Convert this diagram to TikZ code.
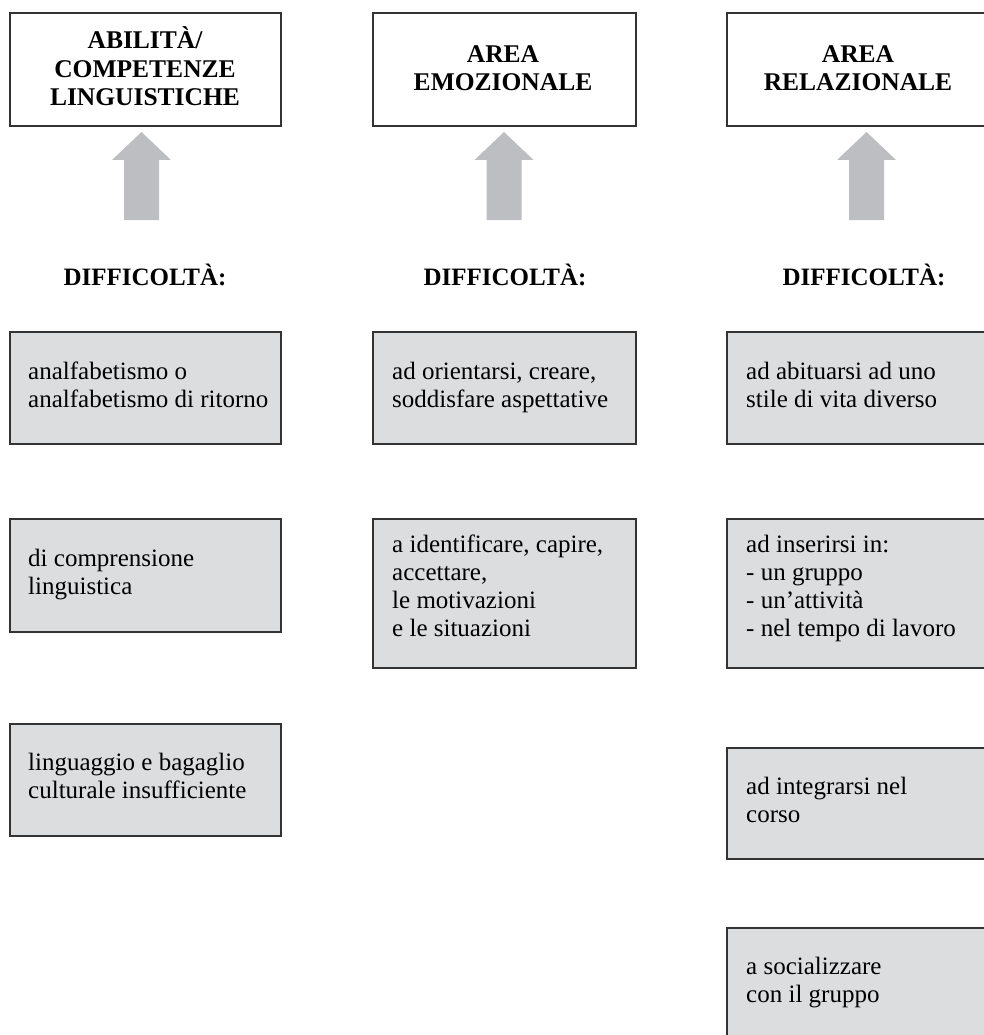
\documentclass[tikz,border=0pt]{standalone}
\usepackage{fontspec}
\setmainfont{Liberation Serif}
\usetikzlibrary{calc}
\definecolor{boxgray}{HTML}{DCDDDF}
\definecolor{arrowgray}{HTML}{BDBEC1}
\definecolor{edge}{HTML}{333333}
\begin{document}
\begin{tikzpicture}[x=1pt,y=-1pt,
  frame/.style={draw=edge, line width=1.2pt, inner sep=0pt, outer sep=0pt, anchor=north west},
  areabox/.style={frame, fill=white},
  itembox/.style={frame, fill=boxgray},
  % multi-line text nodes are placed by the baseline of their last line
  areatext/.style={font=\fontsize{25.5}{28.5}\selectfont\bfseries, align=center, inner sep=0pt, anchor=base},
  itemtext/.style={font=\fontsize{25}{28}\selectfont, align=left, inner sep=0pt, anchor=base west},
  headtext/.style={font=\fontsize{25}{28}\selectfont\bfseries, inner sep=0pt, anchor=base},
  uparrow/.pic={\fill[arrowgray] (-17.5,88) -- (-17.5,28) -- (-29.5,28) -- (0,0)
      -- (29.5,28) -- (17.5,28) -- (17.5,88) -- cycle;}
]
\useasboundingbox (0,0) rectangle (984,1035);
\clip (0,0) rectangle (984,1035);

% area boxes
\node[areabox, minimum width=271pt, minimum height=113pt] (A1) at (10,13) {};
\node[areabox, minimum width=263pt, minimum height=113pt] (A2) at (373,13) {};
\node[areabox, minimum width=263pt, minimum height=113pt] (A3) at (727,13) {};
\node[areatext] (A1t) at (145,106) {ABILITÀ/\\COMPETENZE\\LINGUISTICHE};
\node[areatext] (A2t) at (503,91) {AREA\\EMOZIONALE};
\node[areatext] (A3t) at (858,91) {AREA\\RELAZIONALE};

% block arrows
\coordinate (T1) at (141.5,132);
\coordinate (T2) at (504,132);
\coordinate (T3) at (866.5,132);
\pic at (T1) {uparrow};
\pic at (T2) {uparrow};
\pic at (T3) {uparrow};

% headings
\node[headtext] (D1) at (145,285) {DIFFICOLTÀ:};
\node[headtext] (D2) at (505,285) {DIFFICOLTÀ:};
\node[headtext] (D3) at (864,285) {DIFFICOLTÀ:};

% column 1
\node[itembox, minimum width=271pt, minimum height=112pt] (a1) at (10,332) {};
\node[itembox, minimum width=271pt, minimum height=113pt] (a2) at (10,519) {};
\node[itembox, minimum width=271pt, minimum height=112pt] (a3) at (10,724) {};
\node[itemtext] (a1t) at (28,407) {analfabetismo o\\analfabetismo di ritorno};
\node[itemtext] (a2t) at (28,594) {di comprensione\\linguistica};
\node[itemtext] (a3t) at (28,798) {linguaggio e bagaglio\\culturale insufficiente};

% column 2
\node[itembox, minimum width=263pt, minimum height=112pt] (b1) at (373,332) {};
\node[itembox, minimum width=263pt, minimum height=149pt] (b2) at (373,519) {};
\node[itemtext] (b1t) at (392,407) {ad orientarsi, creare,\\soddisfare aspettative};
\node[itemtext] (b2t) at (392,636) {a identificare, capire,\\accettare,\\le motivazioni\\e le situazioni};

% column 3
\node[itembox, minimum width=263pt, minimum height=112pt] (c1) at (727,332) {};
\node[itembox, minimum width=263pt, minimum height=149pt] (c2) at (727,519) {};
\node[itembox, minimum width=263pt, minimum height=111pt] (c3) at (727,748) {};
\node[itembox, minimum width=263pt, minimum height=120pt] (c4) at (727,928) {};
\node[itemtext] (c1t) at (746,407) {ad abituarsi ad uno\\stile di vita diverso};
\node[itemtext] (c2t) at (746,636) {ad inserirsi in:\\- un gruppo\\- un’attività\\- nel tempo di lavoro};
\node[itemtext] (c3t) at (746,822) {ad integrarsi nel\\corso};
\node[itemtext] (c4t) at (746,1002) {a socializzare\\con il gruppo};
\end{tikzpicture}
\end{document}
